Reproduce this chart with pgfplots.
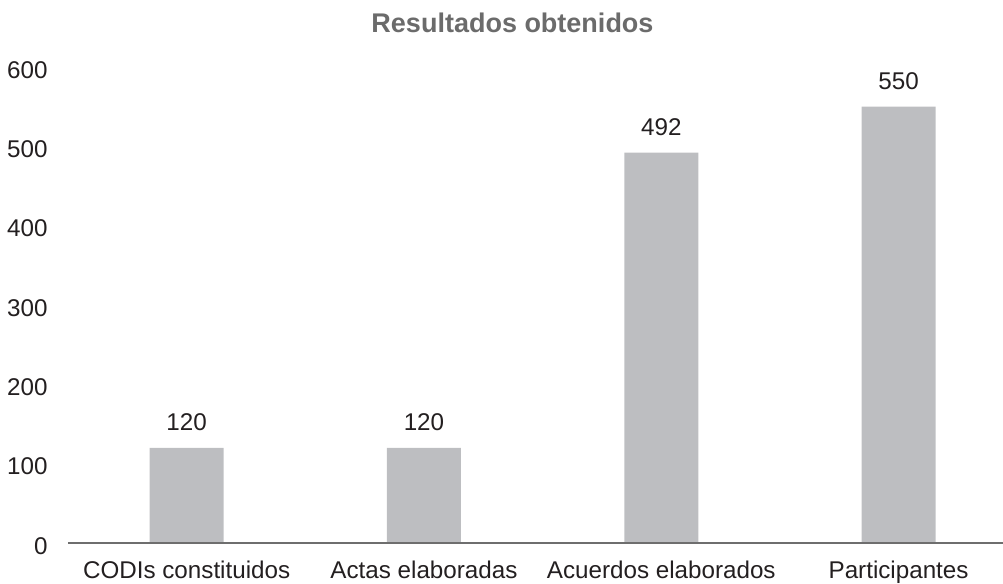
\documentclass[border=0pt]{standalone}
\usepackage{fontspec}
\setmainfont{Liberation Sans}
\usepackage{pgfplots}
\pgfplotsset{compat=1.18}
\definecolor{barc}{HTML}{BDBEC1}
\definecolor{axc}{HTML}{6E6E6E}
\definecolor{txt}{HTML}{231F20}
\definecolor{ttl}{HTML}{6B6B6B}
\begin{document}
\begin{tikzpicture}
\useasboundingbox (0,0) rectangle (501.5bp,292bp);
\begin{axis}[
  at={(34bp,20.5bp)}, anchor=south west,
  scale only axis, width=467.5bp, height=238bp,
  xmin=-0.5, xmax=3.44, ymin=0, ymax=600,
  axis line style={draw=none},
  major tick length=0,
  xtick={0,1,2,3},
  xticklabels={CODIs constituidos, Actas elaboradas, Acuerdos elaborados, Participantes},
  ytick={0,100,...,600},
  font=\fontsize{12.1bp}{14bp}\selectfont,
  /pgf/number format/assume math mode=true,
  xticklabel style={anchor=base, inner sep=0pt, yshift=-17.5bp, text=txt},
  yticklabel style={anchor=east, inner sep=0pt, xshift=-10bp, yshift=-1.5bp, text=txt},
  ybar, bar width=37bp,
  nodes near coords,
  every node near coord/.append style={anchor=base, inner sep=0pt, yshift=8.75bp, text=txt},
  clip=false,
]
\addplot[fill=barc, draw=none] coordinates {(0,120) (1,120) (2,492) (3,550)};
\draw[axc, line width=1bp] (rel axis cs:0,0) -- (rel axis cs:1,0);
\end{axis}
\node[anchor=base, inner sep=0pt, text=ttl, font=\fontsize{13.5bp}{16bp}\selectfont\bfseries] at (256.25bp,275.5bp) {Resultados obtenidos};
\end{tikzpicture}
\end{document}
